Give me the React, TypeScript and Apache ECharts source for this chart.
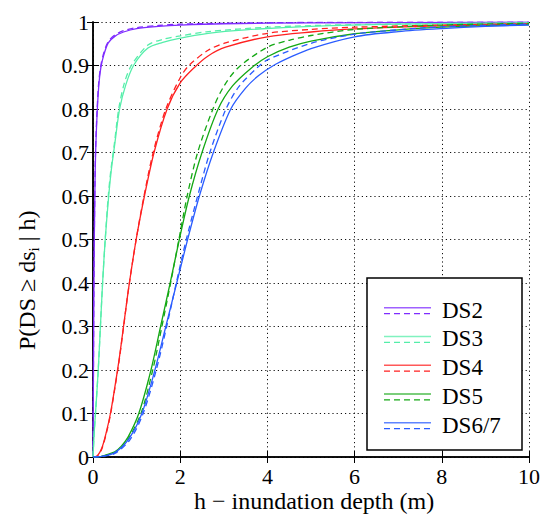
import React, { useEffect, useRef } from "react";
import * as echarts from "echarts";

// ---- data ----
const names = ["DS2", "DS3", "DS4", "DS5", "DS6/7"];
const colors = ["#7f2cff", "#55eeaa", "#ff2020", "#14a814", "#2a5cff"];

const xTicks = [0, 2, 4, 6, 8, 10];
const yTicks = [0, 0.1, 0.2, 0.3, 0.4, 0.5, 0.6, 0.7, 0.8, 0.9, 1];

const ds2Solid = [[0, 0], [0.005, 0.08], [0.01, 0.2], [0.02, 0.38], [0.03, 0.5], [0.045, 0.62], [0.06, 0.7], [0.09, 0.78], [0.13, 0.85], [0.18, 0.895], [0.25, 0.925], [0.35, 0.952], [0.5, 0.967], [0.7, 0.977], [1, 0.985], [1.5, 0.99], [2, 0.993], [3, 0.996], [5, 0.998], [10, 0.9995]];
const ds2Dashed = [[0, 0], [0.005, 0.07], [0.01, 0.19], [0.02, 0.37], [0.03, 0.5], [0.045, 0.63], [0.06, 0.71], [0.09, 0.79], [0.13, 0.86], [0.18, 0.9], [0.25, 0.93], [0.35, 0.955], [0.5, 0.97], [0.7, 0.98], [1, 0.987], [1.5, 0.992], [2, 0.995], [3, 0.997], [5, 0.999], [10, 0.9998]];

const ds3Solid = [[0, 0], [0.03, 0.06], [0.07, 0.12], [0.12, 0.2], [0.17, 0.3], [0.22, 0.4], [0.28, 0.5], [0.36, 0.6], [0.42, 0.66], [0.5, 0.72], [0.61, 0.8], [0.75, 0.855], [0.93, 0.9], [1.26, 0.94], [1.6, 0.953], [1.95, 0.962], [2.64, 0.974], [3.5, 0.982], [5, 0.99], [7, 0.995], [10, 0.998]];
const ds3Dashed = [[0, 0], [0.03, 0.06], [0.07, 0.12], [0.12, 0.2], [0.17, 0.3], [0.22, 0.4], [0.28, 0.5], [0.35, 0.6], [0.41, 0.66], [0.49, 0.72], [0.59, 0.8], [0.72, 0.86], [0.88, 0.9], [1.26, 0.947], [1.6, 0.96], [2, 0.968], [2.64, 0.978], [4, 0.988], [6, 0.994], [10, 0.998]];

const ds4Solid = [[0, 0], [0.1, 0.003], [0.2, 0.02], [0.3, 0.055], [0.4, 0.1], [0.5, 0.16], [0.6, 0.225], [0.7, 0.3], [0.82, 0.39], [0.99, 0.5], [1.18, 0.6], [1.4, 0.7], [1.7, 0.8], [2, 0.86], [2.32, 0.895], [2.64, 0.922], [3.04, 0.942], [4, 0.966], [5, 0.977], [6, 0.984], [8, 0.991], [10, 0.995]];
const ds4Dashed = [[0, 0], [0.1, 0.002], [0.2, 0.018], [0.3, 0.052], [0.4, 0.097], [0.5, 0.157], [0.6, 0.222], [0.7, 0.298], [0.82, 0.39], [0.99, 0.5], [1.17, 0.6], [1.38, 0.7], [1.67, 0.8], [2, 0.872], [2.2, 0.9], [2.64, 0.935], [3.04, 0.952], [4, 0.974], [5, 0.983], [6, 0.988], [8, 0.993], [10, 0.996]];

const ds5Solid = [[0, 0], [0.18, 0.001], [0.27, 0.004], [0.5, 0.012], [0.65, 0.025], [0.8, 0.045], [1.05, 0.1], [1.33, 0.2], [1.55, 0.3], [1.77, 0.4], [1.98, 0.5], [2.21, 0.6], [2.5, 0.7], [2.87, 0.8], [3.2, 0.853], [3.64, 0.895], [4, 0.92], [4.5, 0.942], [5, 0.956], [6, 0.973], [7, 0.982], [8, 0.988], [10, 0.994]];
const ds5Dashed = [[0, 0], [0.18, 0.001], [0.27, 0.003], [0.5, 0.01], [0.65, 0.022], [0.8, 0.04], [1.1, 0.1], [1.37, 0.2], [1.58, 0.3], [1.78, 0.4], [1.97, 0.5], [2.16, 0.6], [2.4, 0.7], [2.75, 0.8], [3.0, 0.852], [3.33, 0.895], [4, 0.942], [4.5, 0.958], [5, 0.969], [6, 0.983], [8, 0.993], [10, 0.997]];

const ds67Solid = [[0, 0], [0.18, 0.001], [0.5, 0.01], [0.83, 0.043], [1.12, 0.1], [1.42, 0.2], [1.67, 0.3], [1.92, 0.4], [2.17, 0.5], [2.44, 0.6], [2.76, 0.7], [3.16, 0.8], [3.5, 0.848], [3.8, 0.877], [4.14, 0.9], [4.5, 0.918], [5, 0.939], [6, 0.966], [7, 0.978], [8, 0.985], [9, 0.99], [10, 0.993]];
const ds67Dashed = [[0, 0], [0.18, 0.001], [0.5, 0.008], [0.85, 0.04], [1.15, 0.1], [1.45, 0.2], [1.69, 0.3], [1.91, 0.4], [2.14, 0.5], [2.4, 0.6], [2.68, 0.7], [3.05, 0.8], [3.35, 0.852], [3.79, 0.897], [4, 0.913], [5, 0.951], [6, 0.972], [7, 0.982], [8, 0.989], [10, 0.995]];

const solidData = [ds2Solid, ds3Solid, ds4Solid, ds5Solid, ds67Solid];
const dashedData = [ds2Dashed, ds3Dashed, ds4Dashed, ds5Dashed, ds67Dashed];

const xLabel = "h − inundation depth (m)";
const FONT = "Liberation Serif";

export default function App() {
  const ref = useRef<HTMLDivElement>(null);
  useEffect(() => {
    if (!ref.current) return;
    const chart = echarts.init(ref.current, undefined, { renderer: "svg" });

    const series: any[] = [];
    names.forEach((n, i) => {
      series.push({
        name: n + " solid",
        type: "line",
        data: solidData[i],
        showSymbol: false,
        smooth: 0.3,
        lineStyle: { color: colors[i], width: 1.3, type: "solid" },
        z: 3,
      });
      series.push({
        name: n + " dashed",
        type: "line",
        data: dashedData[i],
        showSymbol: false,
        smooth: 0.3,
        lineStyle: { color: colors[i], width: 1.3, type: [6, 4] },
        z: 3,
      });
    });

    const els: any[] = [
      {
        type: "rect",
        shape: { x: 367, y: 278, width: 155, height: 172 },
        style: { fill: "#fff", stroke: "#000", lineWidth: 1.5 },
        z: 100,
      },
    ];
    names.forEach((n, i) => {
      const y = 307.7 + i * 28.75;
      els.push({
        type: "line",
        shape: { x1: 384, y1: y, x2: 431, y2: y },
        style: { stroke: colors[i], lineWidth: 1.5, opacity: 0.75 },
        z: 101,
      });
      els.push({
        type: "line",
        shape: { x1: 384, y1: y + 6, x2: 431, y2: y + 6 },
        style: { stroke: colors[i], lineWidth: 1.3, lineDash: [6, 4] },
        z: 101,
      });
      els.push({
        type: "text",
        x: 442,
        y: y - 9,
        style: { text: n, fontSize: 23, fontFamily: FONT, fill: "#000" },
        z: 101,
      });
    });

    els.push({
      type: "text",
      x: 194,
      y: 489,
      style: { text: xLabel, fontSize: 24, fontFamily: FONT, fill: "#000" },
    });
    els.push({
      type: "text",
      x: 12,
      y: 350,
      rotation: Math.PI / 2,
      style: {
        text: "P(DS ≥ ds{sub|i} | h)",
        fontSize: 24,
        fontFamily: FONT,
        fill: "#000",
        rich: {
          sub: { fontSize: 15, fontFamily: FONT, fill: "#000", padding: [14, 0, 0, 0] },
        },
      },
    });

    const lbl = { color: "#000", fontSize: 22, fontFamily: FONT };
    const axisCommon = {
      axisLine: { show: true, lineStyle: { color: "#000", width: 1.5 } },
      axisTick: { show: true, inside: true, length: 6, lineStyle: { color: "#000", width: 1 } },
    };

    chart.setOption({
      animation: false,
      backgroundColor: "#fff",
      grid: { left: 93, right: 15, top: 22, bottom: 59, containLabel: false },
      xAxis: [
        {
          type: "value",
          min: xTicks[0],
          max: xTicks[xTicks.length - 1],
          interval: xTicks[1] - xTicks[0],
          ...axisCommon,
          axisLabel: { ...lbl, margin: 8 },
          splitLine: { show: true, lineStyle: { color: "#111", width: 1, type: [1.2, 3] } },
        },
        {
          type: "value",
          position: "top",
          min: xTicks[0],
          max: xTicks[xTicks.length - 1],
          interval: xTicks[1] - xTicks[0],
          ...axisCommon,
          axisLabel: { show: false },
          splitLine: { show: false },
        },
      ],
      yAxis: [
        {
          type: "value",
          min: yTicks[0],
          max: yTicks[yTicks.length - 1],
          interval: 0.1,
          ...axisCommon,
          axisLabel: { ...lbl, margin: 4, formatter: (v: number) => String(Number(v.toFixed(1))) },
          splitLine: { show: true, lineStyle: { color: "#111", width: 1, type: [1.2, 3] } },
        },
        {
          type: "value",
          position: "right",
          min: yTicks[0],
          max: yTicks[yTicks.length - 1],
          interval: 0.1,
          ...axisCommon,
          axisLabel: { show: false },
          splitLine: { show: false },
        },
      ],
      series,
      graphic: els,
    });
    return () => chart.dispose();
  }, []);

  return (
    <div
      ref={ref}
      style={{ position: "absolute", left: 0, top: 0, width: 544, height: 516, background: "#fff" }}
    />
  );
}
